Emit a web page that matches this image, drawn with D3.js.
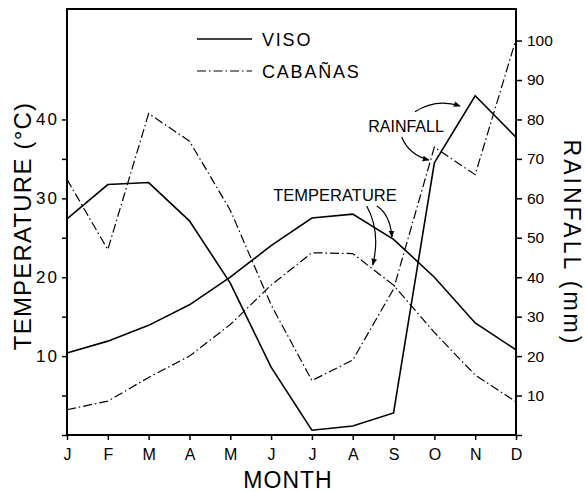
<!DOCTYPE html>
<html>
<head>
<meta charset="utf-8">
<script src="https://cdn.jsdelivr.net/npm/d3@7/dist/d3.min.js"></script>
<style>
  body { margin: 0; background: #fff; }
  svg { display: block; font-family: "Liberation Sans", Arial, sans-serif; }
</style>
</head>
<body>
<svg id="chart" width="585" height="492"></svg>
<script>
// data
const months = ['J', 'F', 'M', 'A', 'M', 'J', 'J', 'A', 'S', 'O', 'N', 'D'];
const visoTemp = [10.4, 11.9, 13.9, 16.5, 20.0, 24.0, 27.5, 28.0, 24.8, 20.0, 14.2, 10.8];
const cabanasTemp = [3.2, 4.3, 7.3, 10.0, 14.0, 19.0, 23.1, 23.0, 19.0, 13.0, 7.6, 4.2];
const visoRain = [54.8, 63.5, 64.0, 54.3, 38.5, 17.2, 1.2, 2.3, 5.6, 69.0, 86.0, 75.5];
const cabanasRain = [64.8, 47.0, 81.5, 74.5, 57.0, 33.0, 13.8, 19.0, 37.0, 73.0, 66.0, 100.3];
const tempTicks = [10, 20, 30, 40];
const tempMinorTicks = [0, 5, 15, 25, 35];
const rainTicks = [10, 20, 30, 40, 50, 60, 70, 80, 90, 100];

const svg = d3.select('#chart');
const frame = { left: 67, right: 516, top: 9, bottom: 435 };
const dashDot = '9,3,1.5,3';

const x = d3.scaleLinear().domain([0, 11]).range([frame.left, frame.right]);
const yT = d3.scaleLinear().domain([0, 54]).range([frame.bottom, frame.top]);
const yR = d3.scaleLinear().domain([0, 108]).range([frame.bottom, frame.top]);

// arrowhead
svg.append('defs').append('marker')
    .attr('id', 'head')
    .attr('viewBox', '0 0 10 10')
    .attr('refX', 9).attr('refY', 5)
    .attr('markerWidth', 7).attr('markerHeight', 7)
    .attr('markerUnits', 'userSpaceOnUse')
    .attr('orient', 'auto')
    .append('path').attr('d', 'M0,1 L10,5 L0,9 Z').attr('fill', '#000');

// axes
const xAxis = svg.append('g')
    .attr('transform', `translate(0,${frame.bottom})`)
    .call(d3.axisBottom(x).tickValues(d3.range(12)).tickFormat((i) => months[i]).tickSize(5).tickPadding(6));
xAxis.select('.domain').remove();
xAxis.selectAll('text').style('font-size', '16px').attr('dy', '0.9em');

const yAxisL = svg.append('g')
    .attr('transform', `translate(${frame.left},0)`)
    .call(d3.axisLeft(yT).tickValues(tempTicks).tickSize(5).tickPadding(3));
yAxisL.select('.domain').remove();
yAxisL.selectAll('text').style('font-size', '17px').style('letter-spacing', '2px');

svg.append('g')
    .attr('transform', `translate(${frame.left},0)`)
    .call(d3.axisLeft(yT).tickValues(tempMinorTicks).tickSize(5).tickFormat(''))
    .select('.domain').remove();

const yAxisR = svg.append('g')
    .attr('transform', `translate(${frame.right},0)`)
    .call(d3.axisRight(yR).tickValues([0].concat(rainTicks)).tickFormat((d) => d === 0 ? '' : d).tickSize(6).tickPadding(5));
yAxisR.select('.domain').remove();
yAxisR.selectAll('text').style('font-size', '15.5px');

svg.selectAll('.tick line').attr('stroke', '#000').attr('stroke-width', 1.5);
svg.selectAll('.tick text').attr('fill', '#000');

// frame
svg.append('rect')
    .attr('x', frame.left).attr('y', frame.top)
    .attr('width', frame.right - frame.left).attr('height', frame.bottom - frame.top)
    .attr('fill', 'none').attr('stroke', '#000').attr('stroke-width', 2);

// series
const series = [
    { values: visoTemp, y: yT, dash: null },
    { values: cabanasTemp, y: yT, dash: dashDot },
    { values: visoRain, y: yR, dash: null },
    { values: cabanasRain, y: yR, dash: dashDot },
];

series.forEach((s) => {
    const line = d3.line().x((d, i) => x(i)).y((d) => s.y(d));
    svg.append('path')
        .datum(s.values)
        .attr('d', line)
        .attr('fill', 'none')
        .attr('stroke', '#000')
        .attr('stroke-width', s.dash ? 1.2 : 1.6)
        .attr('stroke-dasharray', s.dash);
});

// legend
const legend = [
    { name: 'VISO', dash: null, y: 39 },
    { name: 'CABAÑAS', dash: dashDot, y: 71 },
];
legend.forEach((l) => {
    svg.append('line')
        .attr('x1', 197).attr('x2', 252)
        .attr('y1', l.y).attr('y2', l.y)
        .attr('stroke', '#000')
        .attr('stroke-width', l.dash ? 1.2 : 1.6)
        .attr('stroke-dasharray', l.dash);
    svg.append('text')
        .attr('x', 262).attr('y', l.y + 7)
        .style('font-size', '18px')
        .style('letter-spacing', '1.8px')
        .text(l.name);
});

// annotations
svg.append('text')
    .attr('x', 335).attr('y', 201)
    .attr('text-anchor', 'middle')
    .style('font-size', '16.5px')
    .text('TEMPERATURE');

svg.append('text')
    .attr('x', 406).attr('y', 132)
    .attr('text-anchor', 'middle')
    .style('font-size', '16px')
    .text('RAINFALL');

const arrows = [
    'M366.7,206 Q381,232 372.7,265',
    'M376.7,206 Q390,214 392,237',
    'M415,111.7 Q436,98 460,106',
    'M401.7,137 Q409,155 429,160',
];
arrows.forEach((d) => {
    svg.append('path')
        .attr('d', d)
        .attr('fill', 'none')
        .attr('stroke', '#000')
        .attr('stroke-width', 1.2)
        .attr('marker-end', 'url(#head)');
});

// axis titles
svg.append('text')
    .attr('transform', 'translate(31,226) rotate(-90)')
    .attr('text-anchor', 'middle')
    .style('font-size', '24px')
    .style('letter-spacing', '1.2px')
    .text('TEMPERATURE (°C)');

svg.append('text')
    .attr('transform', 'translate(564,243) rotate(90)')
    .attr('text-anchor', 'middle')
    .style('font-size', '23px')
    .style('letter-spacing', '3px')
    .text('RAINFALL (mm)');

svg.append('text')
    .attr('x', 288).attr('y', 488)
    .attr('text-anchor', 'middle')
    .style('font-size', '23px')
    .style('letter-spacing', '1px')
    .text('MONTH');
</script>
</body>
</html>
